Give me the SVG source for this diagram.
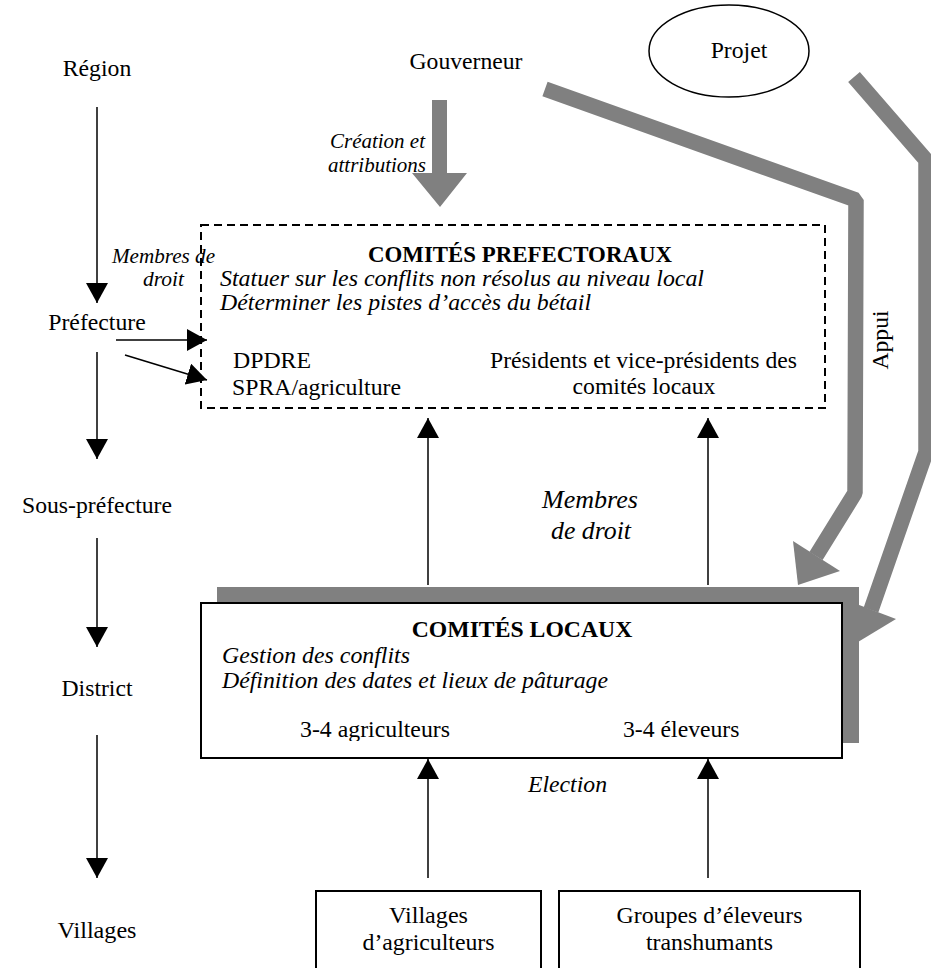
<svg xmlns="http://www.w3.org/2000/svg" width="931" height="968" viewBox="0 0 931 968">
<style>
text{font-family:"Liberation Serif","Times New Roman",serif;font-size:23.7px;fill:#000}
.i{font-style:italic}
.s{font-size:21px}
.big{font-size:25px}
.b{font-weight:bold}
.m{text-anchor:middle}
.e{text-anchor:end}
.ln{stroke:#000;stroke-width:1.5;fill:none}
.gray{stroke:#808080;fill:none;stroke-width:15.5;stroke-linejoin:bevel}
.gf{fill:#808080}
.box{fill:#fff;stroke:#000;stroke-width:2}
.dash{fill:none;stroke:#000;stroke-width:2;stroke-dasharray:8 5}
</style>
<defs>
<marker id="ah" markerUnits="userSpaceOnUse" markerWidth="20" markerHeight="22" refX="20" refY="11" orient="auto" viewBox="0 0 20 22"><path d="M0,0 L20,11 L0,22 z" fill="#000"/></marker>
<clipPath id="cp1"><rect x="201" y="225" width="624" height="175"/></clipPath>
<clipPath id="cp2"><rect x="201" y="603" width="641" height="138"/></clipPath>
</defs>
<rect width="931" height="968" fill="#fff"/>

<g id="connectors">
  <line class="ln" x1="97" y1="107" x2="97" y2="303" marker-end="url(#ah)"/>
  <line class="ln" x1="97" y1="352" x2="97" y2="459" marker-end="url(#ah)"/>
  <line class="ln" x1="97" y1="538" x2="97" y2="647" marker-end="url(#ah)"/>
  <line class="ln" x1="97" y1="735" x2="97" y2="878" marker-end="url(#ah)"/>
  <line class="ln" x1="116" y1="340" x2="207" y2="340" marker-end="url(#ah)"/>
  <line class="ln" x1="125" y1="355" x2="207" y2="380" marker-end="url(#ah)"/>
  <line class="ln" x1="428" y1="585" x2="428" y2="418" marker-end="url(#ah)"/>
  <line class="ln" x1="708" y1="585" x2="708" y2="418" marker-end="url(#ah)"/>
  <line class="ln" x1="428" y1="878" x2="428" y2="759" marker-end="url(#ah)"/>
  <line class="ln" x1="708" y1="878" x2="708" y2="759" marker-end="url(#ah)"/>
  <polygon class="gf" points="432,100 447,100 447,173 467,173 440,207 412,173 432,173"/>
  <polyline class="gray" points="545,89 856,200 855,493 816,556"/>
  <polygon class="gf" points="793,541 840,571 798,585"/>
  <polyline class="gray" points="854,77 926,160 926,452 871,610"/>
  <polygon class="gf" points="896,619 846,600 858,642"/>
</g>

<g id="levels">
  <text class="m" x="97" y="76" textLength="68.5" lengthAdjust="spacingAndGlyphs">Région</text>
  <text class="m" x="97" y="330" textLength="97.4" lengthAdjust="spacingAndGlyphs">Préfecture</text>
  <text class="m" x="97" y="513" textLength="150" lengthAdjust="spacingAndGlyphs">Sous-préfecture</text>
  <text class="m" x="97" y="696" textLength="71" lengthAdjust="spacingAndGlyphs">District</text>
  <text class="m" x="97" y="938" textLength="79" lengthAdjust="spacingAndGlyphs">Villages</text>
</g>

<g id="gouverneur">
  <text class="m" x="466" y="69" textLength="113" lengthAdjust="spacingAndGlyphs">Gouverneur</text>
</g>

<g id="projet">
  <ellipse cx="729" cy="51" rx="80" ry="46" fill="none" stroke="#000" stroke-width="1.5"/>
  <text class="m" x="739" y="58" textLength="56.6" lengthAdjust="spacingAndGlyphs">Projet</text>
</g>

<g id="labels">
  <text class="i s e" x="425" y="148" textLength="95" lengthAdjust="spacingAndGlyphs">Création et</text>
  <text class="i s e" x="426" y="172" textLength="98" lengthAdjust="spacingAndGlyphs">attributions</text>
  <text class="i s m" x="163.5" y="263" textLength="103" lengthAdjust="spacingAndGlyphs">Membres de</text>
  <text class="i s m" x="163.5" y="286" textLength="41" lengthAdjust="spacingAndGlyphs">droit</text>
  <text class="i big m" x="590" y="508" textLength="96" lengthAdjust="spacingAndGlyphs">Membres</text>
  <text class="i big m" x="591" y="539" textLength="80" lengthAdjust="spacingAndGlyphs">de droit</text>
  <text class="i" x="528" y="792" textLength="79" lengthAdjust="spacingAndGlyphs">Election</text>
  <text class="m" transform="translate(888,340) rotate(-90)" textLength="59" lengthAdjust="spacingAndGlyphs">Appui</text>
</g>

<g id="comites-prefectoraux">
  <rect class="dash" x="201" y="225" width="624" height="183"/>
  <g clip-path="url(#cp1)">
    <text class="b m" x="520" y="262" textLength="304" lengthAdjust="spacingAndGlyphs">COMITÉS PREFECTORAUX</text>
    <text class="i" x="220" y="286" textLength="484" lengthAdjust="spacingAndGlyphs">Statuer sur les conflits non résolus au niveau local</text>
    <text class="i" x="220" y="310" textLength="371" lengthAdjust="spacingAndGlyphs">Déterminer les pistes d’accès du bétail</text>
    <text x="233" y="368" textLength="78" lengthAdjust="spacingAndGlyphs">DPDRE</text>
    <text x="232" y="395" textLength="169" lengthAdjust="spacingAndGlyphs">SPRA/agriculture</text>
    <text class="e" x="797" y="368" textLength="307" lengthAdjust="spacingAndGlyphs">Présidents et vice-présidents des</text>
    <text class="m" x="644" y="394" textLength="143" lengthAdjust="spacingAndGlyphs">comités locaux</text>
  </g>
</g>

<g id="comites-locaux">
  <rect class="gf" x="217" y="587" width="642" height="156"/>
  <rect class="box" x="201" y="603" width="641" height="155"/>
  <g clip-path="url(#cp2)">
    <text class="b m" x="522" y="637" textLength="220.5" lengthAdjust="spacingAndGlyphs">COMITÉS LOCAUX</text>
    <text class="i" x="222" y="663" textLength="188" lengthAdjust="spacingAndGlyphs">Gestion des conflits</text>
    <text class="i" x="222" y="688" textLength="386" lengthAdjust="spacingAndGlyphs">Définition des dates et lieux de pâturage</text>
    <text x="300" y="737" textLength="150" lengthAdjust="spacingAndGlyphs">3-4 agriculteurs</text>
    <text x="623" y="737" textLength="116.5" lengthAdjust="spacingAndGlyphs">3-4 éleveurs</text>
  </g>
</g>

<g id="villages-agriculteurs">
  <rect class="box" x="316" y="891" width="225" height="100"/>
  <text class="m" x="428.5" y="923" textLength="79" lengthAdjust="spacingAndGlyphs">Villages</text>
  <text class="m" x="428.5" y="950" textLength="132" lengthAdjust="spacingAndGlyphs">d’agriculteurs</text>
</g>

<g id="groupes-eleveurs">
  <rect class="box" x="559" y="891" width="301" height="100"/>
  <text class="m" x="709.5" y="923" textLength="186" lengthAdjust="spacingAndGlyphs">Groupes d’éleveurs</text>
  <text class="m" x="709.5" y="950" textLength="127" lengthAdjust="spacingAndGlyphs">transhumants</text>
</g>
</svg>
